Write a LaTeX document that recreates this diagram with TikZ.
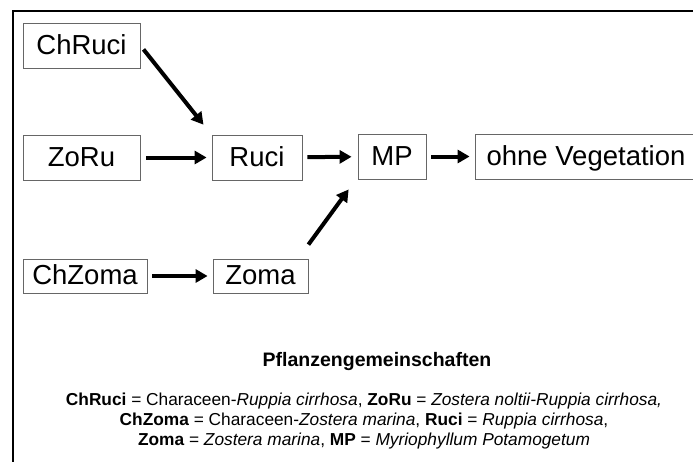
\documentclass[tikz,border=0pt]{standalone}
\usepackage{fontspec}
\setmainfont{Liberation Sans}
\usetikzlibrary{arrows.meta}
\tikzset{
  stufe/.style={draw=gray!80!black, line width=0.8pt, inner sep=0pt, align=center,
    minimum height=45pt, text height=23pt, text depth=6pt, font=\fontsize{27.5}{30}\selectfont},
  pfeil/.style={line width=4pt, -{Triangle[length=12pt,width=13pt]}, shorten <=5pt, shorten >=5pt}
}
\begin{document}
\begin{tikzpicture}[x=1pt,y=-1pt]
        \useasboundingbox (0,0) rectangle (693,461);
        \clip (0,0) rectangle (693,461);
        \draw[line width=2pt] (13,11) rectangle (720,490);
        % Gemeinschaften
        \node[stufe, minimum width=117pt] (chruci) at (81.5,45.5) {ChRuci};
        \node[stufe, minimum width=117pt] (zoru) at (81.5,157.5) {ZoRu};
        \node[stufe, minimum width=124pt, minimum height=34pt] (chzoma) at (85,276) {ChZoma};
        \node[stufe, minimum width=90pt] (ruci) at (257,157.5) {Ruci};
        \node[stufe, minimum width=95pt, minimum height=34pt] (zoma) at (260.5,276) {Zoma};
        \node[stufe, minimum width=68pt] (mp) at (392,156.5) {MP};
        \node[stufe, minimum width=222pt] (ohne) at (586,156.5) {ohne Vegetation};
        % Pfeile
        \draw[pfeil] (chruci.east) -- ([xshift=-5pt,yshift=6pt]ruci.north west);
        \draw[pfeil, shorten <=6pt] (zoru) -- (ruci);
        \draw[pfeil, shorten >=6pt] (ruci) -- (mp);
        \draw[pfeil] (mp) -- (ohne);
        \draw[pfeil] (chzoma) -- (zoma);
        \draw[pfeil, shorten <=0pt] ([yshift=14pt]zoma.north east) -- ([xshift=-6pt,yshift=-6pt]mp.south west);
        % Legende
        \node[font=\fontsize{19.5}{22}\selectfont\bfseries] (titel) at (377,361) {Pflanzengemeinschaften};
        \node[font=\fontsize{17.3}{20}\selectfont, align=center] (legende) at (364,421) {%
          \textbf{ChRuci} = Characeen-\textit{Ruppia cirrhosa}, \textbf{ZoRu} = \textit{Zostera noltii-Ruppia cirrhosa,}\\
          \textbf{ChZoma} = Characeen-\textit{Zostera marina}, \textbf{Ruci} = \textit{Ruppia cirrhosa},\\
          \textbf{Zoma} = \textit{Zostera marina}, \textbf{MP} = \textit{Myriophyllum Potamogetum}};
\end{tikzpicture}
\end{document}
